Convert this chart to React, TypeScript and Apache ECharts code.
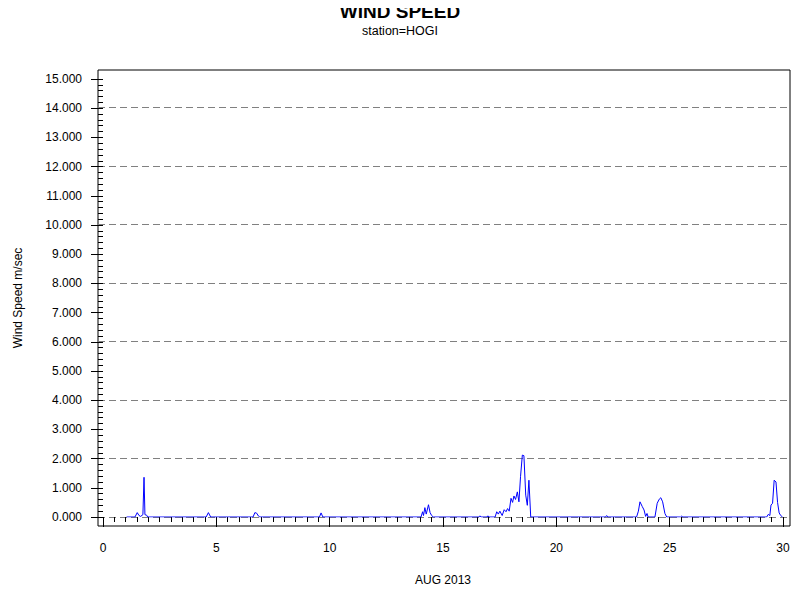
import React, { useEffect, useRef } from "react";
import * as echarts from "echarts";

const titleText = "WIND SPEED";
const subtitleText = "station=HOGI";
const xAxisName = "AUG 2013";
const yAxisName = "Wind Speed m/sec";

const days = [
  1.04, 1.41, 1.51, 1.59, 1.66, 1.76, 1.81, 1.85, 1.93, 1.97,
  4.55, 4.65, 4.75,
  6.62, 6.7, 6.78, 6.86, 6.92,
  9.55, 9.62, 9.7,
  14.03, 14.1, 14.14, 14.2, 14.26, 14.36, 14.43, 14.5, 14.57,
  16.58, 16.63, 16.68, 16.94, 16.98, 17.02,
  17.3, 17.37, 17.44, 17.51, 17.61, 17.7, 17.78, 17.85, 17.92, 18.0, 18.07,
  18.13, 18.2, 18.28, 18.35, 18.42, 18.5, 18.57, 18.65, 18.72, 18.79, 18.87,
  22.17, 22.22, 22.27,
  23.54, 23.62, 23.69, 23.79, 23.87, 23.94, 24.0, 24.05,
  24.35, 24.45, 24.54, 24.61, 24.69, 24.79, 24.87,
  25.48, 25.53, 25.58,
  29.28, 29.35, 29.42, 29.47, 29.54, 29.61, 29.69, 29.76, 29.83, 29.9, 29.98, 30.0,
];

const speeds = [
  0, 0, 0.15, 0.05, 0.02, 0.08, 1.36, 0.08, 0.06, 0,
  0, 0.15, 0,
  0, 0.15, 0.13, 0.03, 0,
  0, 0.14, 0,
  0, 0.18, 0.05, 0.32, 0.1, 0.42, 0.15, 0.05, 0,
  0, 0.04, 0, 0, 0.04, 0,
  0, 0.18, 0.1, 0.2, 0.05, 0.25, 0.18, 0.29, 0.2, 0.64, 0.5,
  0.72, 0.6, 0.86, 0.52, 1.38, 2.12, 2.1, 0.75, 0.4, 1.26, 0,
  0, 0.05, 0,
  0, 0.2, 0.52, 0.36, 0.24, 0.02, 0.12, 0,
  0, 0.47, 0.61, 0.66, 0.52, 0.12, 0,
  0, 0.03, 0,
  0, 0.09, 0.05, 0.41, 0.47, 1.26, 1.2, 0.5, 0.14, 0.05, 0, 0,
];

const FONT = "'Liberation Sans', Arial, sans-serif";

export default function App() {
  const ref = useRef<HTMLDivElement>(null);

  useEffect(() => {
    if (!ref.current) return;
    const chart = echarts.init(ref.current, null, { renderer: "svg" });
    const data = days.map((d, i) => [d, speeds[i]]);
    chart.setOption({
      animation: false,
      backgroundColor: "#ffffff",
      textStyle: { fontFamily: FONT },
      graphic: [
        {
          type: "text",
          x: 400,
          y: 11,
          style: {
            text: titleText,
            align: "center",
            verticalAlign: "middle",
            font: `bold 19px ${FONT}`,
            fill: "#000",
          },
        },
        {
          type: "text",
          x: 400,
          y: 31,
          style: {
            text: subtitleText,
            align: "center",
            verticalAlign: "middle",
            font: `12.5px ${FONT}`,
            fill: "#000",
          },
        },
      ],
      grid: [
        { left: 103, right: 17, top: 79, bottom: 83, show: false },
        { left: 98, right: 10, top: 70, bottom: 74, show: true, borderColor: "#000", borderWidth: 1, backgroundColor: "transparent" },
      ],
      xAxis: [
        {
          type: "value",
          gridIndex: 0,
          min: 0,
          max: 30,
          interval: 5,
          offset: 9,
          name: xAxisName,
          nameLocation: "middle",
          nameGap: 48,
          nameTextStyle: { fontFamily: FONT, fontSize: 12, color: "#000" },
          axisLine: { show: false },
          axisTick: { show: true, length: 10, lineStyle: { color: "#000" } },
          minorTick: { show: true, splitNumber: 10, length: 5, lineStyle: { color: "#000" } },
          axisLabel: { fontFamily: FONT, fontSize: 12, color: "#000", margin: 16 },
          splitLine: { show: false },
        },
        {
          type: "value",
          gridIndex: 1,
          min: 0,
          max: 1,
          show: false,
        },
      ],
      yAxis: [
        {
          type: "value",
          gridIndex: 0,
          min: 0,
          max: 15,
          interval: 1,
          offset: 5,
          name: yAxisName,
          nameLocation: "middle",
          nameGap: 74,
          nameRotate: 90,
          nameTextStyle: { fontFamily: FONT, fontSize: 12, color: "#000" },
          axisLine: { show: false },
          axisTick: { show: true, length: 12, lineStyle: { color: "#000" } },
          minorTick: { show: true, splitNumber: 5, length: 5, lineStyle: { color: "#000" } },
          axisLabel: {
            fontFamily: FONT,
            fontSize: 12,
            color: "#000",
            margin: 16,
            formatter: (v: number) => v.toFixed(3),
          },
          splitLine: { show: false },
        },
        {
          type: "value",
          gridIndex: 1,
          min: -0.308,
          max: 15.274,
          splitNumber: 8,
          axisLine: { show: false },
          axisTick: { show: false },
          axisLabel: { show: false },
          splitLine: {
            show: true,
            showMinLine: false,
            showMaxLine: false,
            lineStyle: { color: "#808080", width: 1, type: [7, 4] },
          },
        },
      ],
      series: [
        {
          type: "line",
          xAxisIndex: 0,
          yAxisIndex: 0,
          data,
          showSymbol: false,
          symbol: "none",
          z: 5,
          lineStyle: { color: "#0000ff", width: 1 },
        },
      ],
    });
    return () => chart.dispose();
  }, []);

  return <div ref={ref} style={{ width: 800, height: 600, margin: -8 }} />;
}
